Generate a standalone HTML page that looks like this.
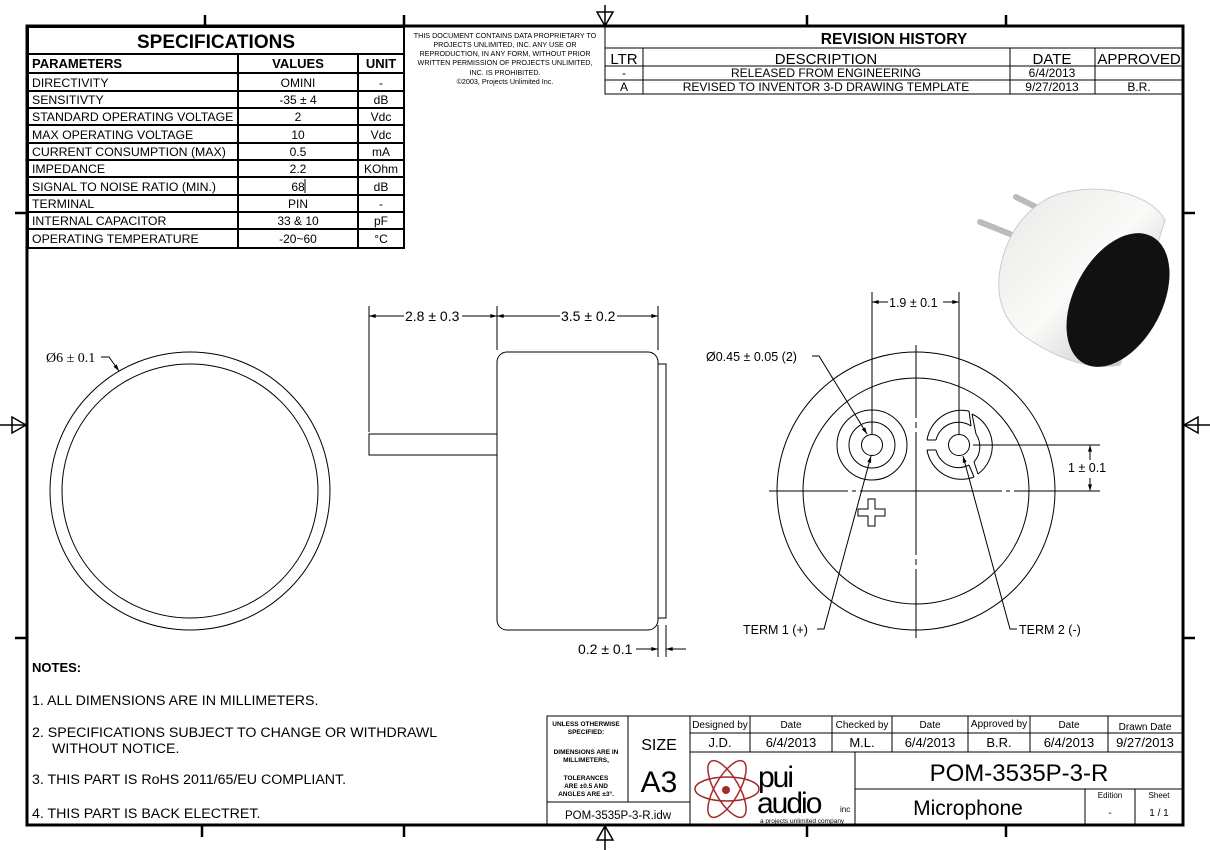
<!DOCTYPE html>
<html><head><meta charset="utf-8"><style>
html,body{margin:0;padding:0;background:#fff;}
svg{display:block;}
text{font-family:"Liberation Sans",Arial,sans-serif;fill:#000;}
.s{font-family:"DejaVu Sans",sans-serif;}
.r{font-family:"Liberation Serif",serif;}
</style></head><body>
<svg width="1210" height="850" viewBox="0 0 1210 850" xmlns="http://www.w3.org/2000/svg">
<defs>
<marker id="a" viewBox="0 0 10 6" refX="10" refY="3" markerWidth="8" markerHeight="4" orient="auto-start-reverse"><path d="M0,0L10,3L0,6z" fill="#000"/></marker>
<linearGradient id="g" x1="0" y1="0" x2="1" y2="1"><stop offset="0" stop-color="#e8e8e6"/><stop offset=".5" stop-color="#fafaf8"/><stop offset="1" stop-color="#b8b8b6"/></linearGradient>
</defs>
<!-- frame -->
<rect x="27" y="26" width="1156" height="799" fill="none" stroke="#000" stroke-width="3"/>
<g stroke="#000" stroke-width="2.5">
<line x1="205" y1="15" x2="205" y2="26"/><line x1="404" y1="15" x2="404" y2="26"/><line x1="807" y1="15" x2="807" y2="26"/><line x1="1006" y1="15" x2="1006" y2="26"/>
<line x1="202" y1="826" x2="202" y2="837"/><line x1="404" y1="826" x2="404" y2="837"/><line x1="807" y1="826" x2="807" y2="837"/><line x1="1006" y1="826" x2="1006" y2="837"/>
<line x1="15" y1="213" x2="27" y2="213"/><line x1="15" y1="638" x2="27" y2="638"/>
<line x1="1183" y1="213" x2="1195" y2="213"/><line x1="1183" y1="638" x2="1195" y2="638"/>
</g>
<g stroke="#000" stroke-width="1.5" fill="none">
<line x1="605" y1="5" x2="605" y2="26"/><path d="M597,12L605,26L613,12z"/>
<line x1="605" y1="826" x2="605" y2="850"/><path d="M597,840L605,826L613,840z"/>
<line x1="0" y1="425" x2="27" y2="425"/><path d="M12,417L26,425L12,433z"/>
<line x1="1183" y1="425" x2="1210" y2="425"/><path d="M1198,417L1184,425L1198,433z"/>
</g>
<!-- specs table -->
<g stroke="#000" stroke-width="2" fill="none">
<rect x="28" y="27" width="376" height="221"/>
<line x1="28" y1="54" x2="404" y2="54"/>
<line x1="28" y1="73" x2="404" y2="73"/>
<line x1="28" y1="91" x2="404" y2="91"/><line x1="28" y1="108" x2="404" y2="108"/><line x1="28" y1="125" x2="404" y2="125"/><line x1="28" y1="143" x2="404" y2="143"/><line x1="28" y1="160" x2="404" y2="160"/><line x1="28" y1="177" x2="404" y2="177"/><line x1="28" y1="195" x2="404" y2="195"/><line x1="28" y1="212" x2="404" y2="212"/><line x1="28" y1="229" x2="404" y2="229"/>
<line x1="238" y1="54" x2="238" y2="248"/><line x1="358" y1="54" x2="358" y2="248"/>
</g>
<line x1="305" y1="179" x2="305" y2="193" stroke="#000"/>
<text x="216" y="48" font-size="19" font-weight="bold" text-anchor="middle">SPECIFICATIONS</text>
<g font-size="13" font-weight="bold"><text x="32" y="68">PARAMETERS</text><text x="298" y="68" text-anchor="middle">VALUES</text><text x="381" y="68" text-anchor="middle">UNIT</text></g>
<g font-size="12.3">
<text x="32" y="87">DIRECTIVITY</text><text x="32" y="104">SENSITIVTY</text><text x="32" y="121">STANDARD OPERATING VOLTAGE</text><text x="32" y="139">MAX OPERATING VOLTAGE</text><text x="32" y="156">CURRENT CONSUMPTION (MAX)</text><text x="32" y="173">IMPEDANCE</text><text x="32" y="191">SIGNAL TO NOISE RATIO (MIN.)</text><text x="32" y="208">TERMINAL</text><text x="32" y="225">INTERNAL CAPACITOR</text><text x="32" y="243">OPERATING TEMPERATURE</text>
</g>
<g font-size="12" text-anchor="middle">
<text x="298" y="87">OMINI</text><text x="298" y="104">-35 ± 4</text><text x="298" y="121">2</text><text x="298" y="139">10</text><text x="298" y="156">0.5</text><text x="298" y="173">2.2</text><text x="298" y="191">68</text><text x="298" y="208">PIN</text><text x="298" y="225">33 &amp; 10</text><text x="298" y="243">-20~60</text>
<text x="381" y="87">-</text><text x="381" y="104">dB</text><text x="381" y="121">Vdc</text><text x="381" y="139">Vdc</text><text x="381" y="156">mA</text><text x="381" y="173">KOhm</text><text x="381" y="191">dB</text><text x="381" y="208">-</text><text x="381" y="225">pF</text><text x="381" y="243">°C</text>
</g>
<!-- proprietary -->
<g font-size="7.2" text-anchor="middle">
<text x="505" y="38">THIS DOCUMENT CONTAINS DATA PROPRIETARY TO</text><text x="505" y="47">PROJECTS UNLIMITED, INC. ANY USE OR</text><text x="505" y="56">REPRODUCTION, IN ANY FORM, WITHOUT PRIOR</text><text x="505" y="65">WRITTEN PERMISSION OF PROJECTS UNLIMITED,</text><text x="505" y="75">INC. IS PROHIBITED.</text><text x="505" y="84">©2003, Projects Unlimited Inc.</text>
</g>
<!-- revision -->
<g stroke="#000" stroke-width="1" fill="none">
<rect x="605" y="26" width="578" height="68"/>
<line x1="605" y1="48" x2="1183" y2="48"/><line x1="605" y1="66" x2="1183" y2="66"/><line x1="605" y1="80" x2="1183" y2="80"/>
<line x1="643" y1="48" x2="643" y2="94"/><line x1="1010" y1="48" x2="1010" y2="94"/><line x1="1095" y1="48" x2="1095" y2="94"/>
</g>
<text x="894" y="44" font-size="15.5" font-weight="bold" text-anchor="middle">REVISION HISTORY</text>
<g font-size="15" text-anchor="middle"><text x="624" y="64">LTR</text><text x="826" y="64">DESCRIPTION</text><text x="1052" y="64">DATE</text><text x="1139" y="64">APPROVED</text></g>
<g font-size="12" text-anchor="middle"><text x="624" y="77">-</text><text x="826" y="77">RELEASED FROM ENGINEERING</text><text x="1052" y="77">6/4/2013</text>
<text x="624" y="91">A</text><text x="826" y="91">REVISED TO INVENTOR 3-D DRAWING TEMPLATE</text><text x="1052" y="91">9/27/2013</text><text x="1139" y="91">B.R.</text></g>
<!-- left view -->
<g stroke="#000" fill="none" stroke-width="1">
<ellipse cx="190" cy="491" rx="140" ry="139"/>
<ellipse cx="190" cy="491" rx="128" ry="127"/>
<path d="M101,357L109,357L119,371" marker-end="url(#a)"/>
</g>
<text class="r" x="46" y="362" font-size="14">Ø6 ± 0.1</text>
<!-- side view -->
<g stroke="#000" fill="none" stroke-width="1">
<rect x="497" y="352" width="161" height="278" rx="10"/>
<rect x="658" y="364" width="8" height="254"/>
<rect x="369" y="434" width="128" height="21"/>
<line x1="369" y1="306" x2="369" y2="432"/><line x1="497" y1="306" x2="497" y2="350"/><line x1="658" y1="306" x2="658" y2="350"/>
<line x1="369" y1="316" x2="404" y2="316" marker-start="url(#a)"/><line x1="462" y1="316" x2="497" y2="316" marker-end="url(#a)"/>
<line x1="497" y1="316" x2="560" y2="316" marker-start="url(#a)"/><line x1="617" y1="316" x2="658" y2="316" marker-end="url(#a)"/>
<line x1="658" y1="625" x2="658" y2="657"/><line x1="666" y1="625" x2="666" y2="657"/>
<line x1="636" y1="649" x2="658" y2="649" marker-end="url(#a)"/><line x1="686" y1="649" x2="666" y2="649" marker-end="url(#a)"/>
</g>
<g class="r" font-size="14"><text x="405" y="321">2.8 ± 0.3</text><text x="561" y="321">3.5 ± 0.2</text><text x="578" y="654">0.2 ± 0.1</text></g>
<!-- end view -->
<g stroke="#000" fill="none" stroke-width="1">
<circle cx="916" cy="491" r="139"/><circle cx="916" cy="491" r="113"/>
<circle cx="872" cy="445" r="10.5"/><circle cx="872" cy="445" r="23"/><circle cx="872" cy="445" r="35"/>
<circle cx="959" cy="445" r="10.5"/>
<path d="M927,440A35,35 0 0 1 969,411M972,414A35,35 0 0 1 978,474M974,477A35,35 0 0 1 927,450"/>
<path d="M936,440A23,23 0 0 1 971,426M976,434A23,23 0 0 1 974,462M969,465A23,23 0 0 1 936,450"/>
<line x1="927" y1="440" x2="936" y2="440"/><line x1="927" y1="450" x2="936" y2="450"/>
<line x1="969" y1="411" x2="971" y2="426"/><line x1="972" y1="414" x2="976" y2="434"/>
<line x1="978" y1="474" x2="974" y2="462"/><line x1="974" y1="477" x2="969" y2="465"/>
<path d="M868,499h7v10h10v7h-10v10h-7v-10h-10v-7h10z"/>
<line x1="769" y1="491" x2="848" y2="491"/><line x1="852" y1="491" x2="856" y2="491"/><line x1="860" y1="491" x2="1002" y2="491"/><line x1="1006" y1="491" x2="1010" y2="491"/><line x1="1014" y1="491" x2="1100" y2="491"/>
<line x1="916" y1="345" x2="916" y2="418"/><line x1="916" y1="422" x2="916" y2="428"/><line x1="916" y1="432" x2="916" y2="555"/><line x1="916" y1="559" x2="916" y2="565"/><line x1="916" y1="569" x2="916" y2="638"/>
<line x1="872" y1="292" x2="872" y2="434"/><line x1="959" y1="292" x2="959" y2="434"/>
<line x1="872" y1="302" x2="888" y2="302" marker-start="url(#a)"/><line x1="943" y1="302" x2="959" y2="302" marker-end="url(#a)"/>
<line x1="973" y1="445" x2="1100" y2="445"/>
<line x1="1090" y1="460" x2="1090" y2="445" marker-end="url(#a)"/><line x1="1090" y1="478" x2="1090" y2="491" marker-end="url(#a)"/>
<path d="M812,356L819,356L867,434" marker-end="url(#a)"/>
<path d="M817,629L824,629L871,456" marker-end="url(#a)"/>
<path d="M1017,629L1010,629L963,456" marker-end="url(#a)"/>
</g>
<g class="s" font-size="12.5"><text x="889" y="307">1.9 ± 0.1</text><text x="706" y="361">Ø0.45 ± 0.05 (2)</text><text x="1068" y="472">1 ± 0.1</text><text x="743" y="634">TERM 1 (+)</text><text x="1019" y="634">TERM 2 (-)</text></g>
<!-- photo -->
<g>
<line x1="980" y1="222" x2="1010" y2="234" stroke="#bbb" stroke-width="6" stroke-linecap="round"/>
<line x1="1016" y1="197" x2="1040" y2="209" stroke="#bbb" stroke-width="6" stroke-linecap="round"/>
<path d="M1045,200C1075,182 1145,185 1165,220L1120,365C1090,370 1060,360 1030,340C1005,325 995,300 1000,270C1005,240 1020,215 1045,200z" fill="url(#g)" stroke="#ccc"/>
<ellipse cx="1118" cy="300" rx="44" ry="72" transform="rotate(28 1118 300)" fill="#111"/>
</g>
<!-- notes -->
<text x="32" y="672" font-size="13" font-weight="bold">NOTES:</text>
<g font-size="14.2"><text x="32" y="705">1. ALL DIMENSIONS ARE IN MILLIMETERS.</text><text x="32" y="737">2. SPECIFICATIONS SUBJECT TO CHANGE OR WITHDRAWL</text><text x="52" y="753">WITHOUT NOTICE.</text><text x="32" y="784">3. THIS PART IS RoHS 2011/65/EU COMPLIANT.</text><text x="32" y="818">4. THIS PART IS BACK ELECTRET.</text></g>
<!-- title block -->
<g stroke="#000" stroke-width="1" fill="none">
<rect x="547" y="716" width="636" height="109"/>
<line x1="628" y1="716" x2="628" y2="802"/><line x1="547" y1="802" x2="690" y2="802"/>
<line x1="690" y1="716" x2="690" y2="825"/>
<line x1="690" y1="733" x2="1183" y2="733"/><line x1="690" y1="752" x2="1183" y2="752"/>
<line x1="750" y1="716" x2="750" y2="752"/><line x1="832" y1="716" x2="832" y2="752"/><line x1="892" y1="716" x2="892" y2="752"/><line x1="968" y1="716" x2="968" y2="752"/><line x1="1030" y1="716" x2="1030" y2="752"/><line x1="1108" y1="716" x2="1108" y2="752"/>
<line x1="855" y1="752" x2="855" y2="825"/><line x1="855" y1="789" x2="1183" y2="789"/>
<line x1="1085" y1="789" x2="1085" y2="825"/><line x1="1135" y1="789" x2="1135" y2="825"/>
</g>
<line x1="547" y1="825" x2="1183" y2="825" stroke="#000" stroke-width="3"/>
<g font-size="6.5" font-weight="bold" text-anchor="middle"><text x="586" y="726">UNLESS OTHERWISE</text><text x="586" y="734">SPECIFIED:</text><text x="586" y="754">DIMENSIONS ARE IN</text><text x="586" y="762">MILLIMETERS,</text><text x="586" y="780">TOLERANCES</text><text x="586" y="788">ARE ±0.5 AND</text><text x="586" y="796">ANGLES ARE ±3°.</text></g>
<text x="659" y="750" font-size="16" text-anchor="middle">SIZE</text>
<text x="659" y="792" font-size="30" text-anchor="middle">A3</text>
<text x="618" y="819" font-size="11.5" text-anchor="middle">POM-3535P-3-R.idw</text>
<g font-size="10" text-anchor="middle"><text x="720" y="728">Designed by</text><text x="791" y="728">Date</text><text x="862" y="728">Checked by</text><text x="930" y="728">Date</text><text x="999" y="727">Approved by</text><text x="1069" y="728">Date</text><text x="1145" y="730">Drawn Date</text></g>
<g font-size="13" text-anchor="middle"><text x="720" y="747">J.D.</text><text x="791" y="747">6/4/2013</text><text x="862" y="747">M.L.</text><text x="930" y="747">6/4/2013</text><text x="999" y="747">B.R.</text><text x="1069" y="747">6/4/2013</text><text x="1145" y="747">9/27/2013</text></g>
<text x="1019" y="781" font-size="24" text-anchor="middle">POM-3535P-3-R</text>
<text x="968" y="815" font-size="21" text-anchor="middle">Microphone</text>
<g font-size="8" text-anchor="middle"><text x="1110" y="798">Edition</text><text x="1159" y="798">Sheet</text></g>
<g font-size="10" text-anchor="middle"><text x="1110" y="816">-</text><text x="1159" y="816">1 / 1</text></g>
<!-- logo -->
<g fill="none" stroke="#a52a2a" stroke-width="1.5">
<ellipse cx="727" cy="789" rx="32" ry="12"/>
<ellipse cx="727" cy="789" rx="32" ry="12" transform="rotate(60 727 789)"/>
<ellipse cx="727" cy="789" rx="32" ry="12" transform="rotate(-60 727 789)"/>
</g>
<circle cx="726" cy="790" r="4" fill="#a52a2a"/>
<text x="758" y="787" font-size="30" style="letter-spacing:-2px">pui</text>
<text x="757" y="813" font-size="30" style="letter-spacing:-2px">audio</text>
<text x="840" y="812" font-size="8">inc</text>
<text x="760" y="823" font-size="6.5">a projects unlimited company</text>
</svg>
</body></html>
